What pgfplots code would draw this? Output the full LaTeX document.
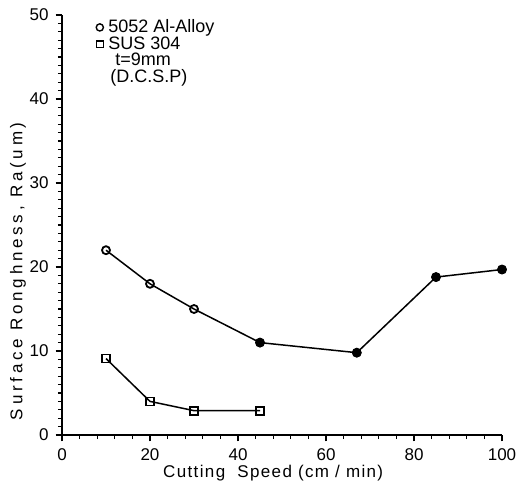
\documentclass[border=0pt]{standalone}
\usepackage{pgfplots}
\pgfplotsset{compat=1.18}
\usepackage{fontspec}
\setmainfont{Liberation Sans}
\newfontfamily\xlab[LetterSpace=8]{Liberation Sans}
\newfontfamily\ylab[LetterSpace=22]{Liberation Sans}

\begin{document}
\begin{tikzpicture}
\begin{axis}[
    name=ax,
    scale only axis,
    width=220pt, height=210pt,
    xmin=0, xmax=100, ymin=0, ymax=50,
    axis lines=left,
    axis line style={line width=0.9pt, -},
    xtick={0,20,...,100}, ytick={0,10,...,50},
    minor x tick num=4, minor y tick num=9,
    tick align=outside,
    major tick length=3.2pt, minor tick length=2pt,
    every tick/.style={black, line width=0.6pt},
    tick label style={font=\fontsize{8.5}{10}\selectfont},
    /pgf/number format/assume math mode=true,
    xlabel={\xlab Cutting\ \ Speed (cm / min)},
    ylabel={\ylab Surface Ronghness, Ra(um)},
    xlabel style={font=\fontsize{8.5}{10}\selectfont, at={(axis description cs:0.48,-0.09)}, anchor=center},
    ylabel style={font=\fontsize{8.5}{10}\selectfont, at={(axis description cs:-0.1,0.39)}, anchor=center},
    legend style={draw=none, fill=none, at={(axis cs:6.5,50.0)}, anchor=north west,
                  font=\fontsize{9}{9}\selectfont, row sep=-1.5pt, inner sep=1pt,
                  nodes={inner sep=1pt}},
    legend cell align=left,
    legend image code/.code={\draw[#1] (0.12cm,0cm) -- plot coordinates {(0.12cm,0cm)};},
]
\addlegendimage{only marks, mark=o, mark size=1.8pt, line width=0.7pt}
\addlegendentry{\,5052 Al-Alloy}
\addlegendimage{only marks, mark=square, mark size=1.7pt, line width=0.7pt}
\addlegendentry{\,SUS 304}
\addlegendimage{empty legend}
\addlegendentry{\ \ t=9mm}
\addlegendimage{empty legend}
\addlegendentry{\ (D.C.S.P)}

% 5052 Al-Alloy
\addplot[black, line width=0.75pt, mark=o, mark size=2pt,
         mark options={line width=0.9pt}, forget plot]
    coordinates {(10,22) (20,18) (30,15) (45,11) (67,9.8) (85,18.8) (100,19.7)};
\addplot[only marks, mark=*, mark size=2.1pt, fill=black, forget plot]
    coordinates {(45,11) (67,9.8) (85,18.8) (100,19.7)};

% SUS 304
\addplot[black, line width=0.75pt, mark=square, mark size=2pt,
         mark options={line width=0.9pt}, forget plot]
    coordinates {(10,9.1) (20,4) (30,2.9) (45,2.9)};
\end{axis}
\pgfresetboundingbox
\path (-31pt,-23.5pt) rectangle (228.5pt,217.5pt);
\end{tikzpicture}
\end{document}
